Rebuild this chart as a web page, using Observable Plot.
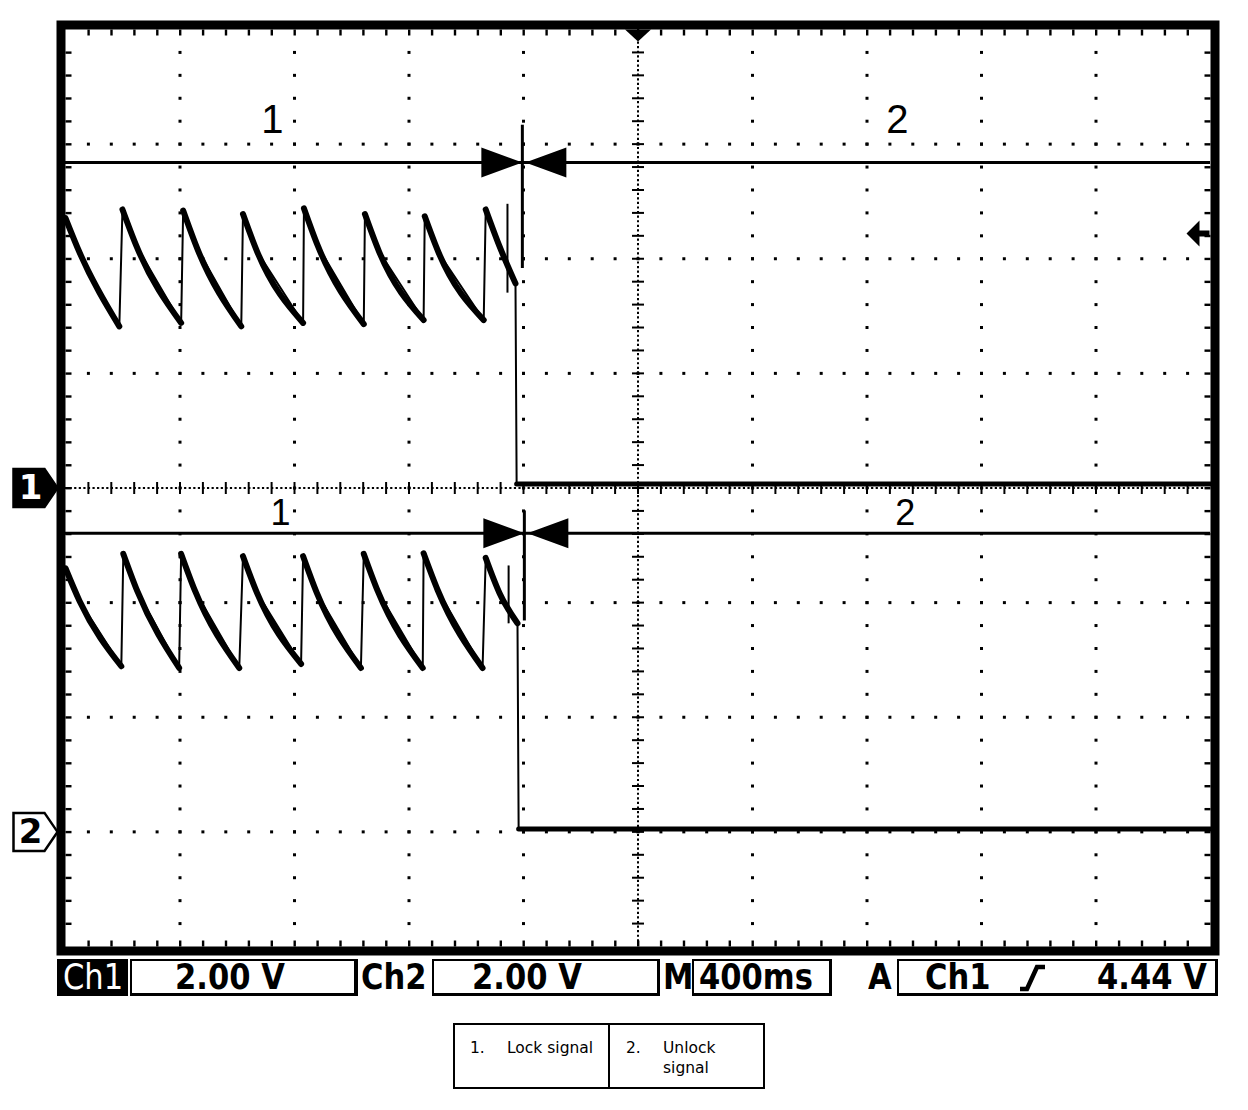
<!DOCTYPE html>
<html><head><meta charset="utf-8">
<script src="https://cdn.jsdelivr.net/npm/d3@7"></script>
<script src="https://cdn.jsdelivr.net/npm/@observablehq/plot@0.6"></script>
<style>
html,body{margin:0;padding:0;background:#fff}
body{width:1248px;height:1110px;position:relative;overflow:hidden;font-family:"DejaVu Sans",sans-serif}
#chart{position:absolute;left:0;top:0}
.bx{position:absolute;top:959px;height:37px;box-sizing:border-box;border:2px solid #000;border-right-width:3px;border-bottom-width:3px}
.tx{position:absolute;top:959px;height:36px;line-height:36px;font-size:36px;font-weight:bold;white-space:nowrap;transform:scaleX(0.85);transform-origin:left center;color:#000}
.lg{position:absolute;font-size:15.5px;line-height:18px;white-space:nowrap;color:#000}
</style></head><body>
<div id="chart"></div>
<div id="status"></div>
<div id="legend"></div>
<script>
// ---------- data ----------
const ch1TimeMs = [-2000,-1950,-1812,-1801,-1752,-1596,-1589,-1540,-1386,-1380,-1331,-1170,-1167,-1118,-958,-954,-905,-749,-745,-696,-539,-532,-484,-428,-424,2000];
const ch1Volts  = [4.71,4.10,2.82,4.86,4.22,2.88,4.84,4.18,2.82,4.78,4.13,2.88,4.88,4.22,2.86,4.78,4.13,2.93,4.74,4.10,2.93,4.86,4.22,3.57,0.07,0.07];
const ch2TimeMs = [-2000,-1951,-1805,-1798,-1749,-1603,-1596,-1547,-1393,-1380,-1331,-1177,-1170,-1122,-968,-958,-909,-752,-749,-700,-543,-532,-484,-421,-417,2000];
const ch2Volts  = [4.60,4.03,2.89,4.85,4.20,2.86,4.85,4.20,2.86,4.81,4.17,2.93,4.81,4.17,2.86,4.85,4.20,2.86,4.86,4.22,2.86,4.78,4.17,3.64,0.05,0.05];
const glitchTimeMs = [-456, -452];
const glitchTopV = [4.95, 4.64];
const glitchBottomV = [3.40, 3.63];

const channels = ["Ch1", "Ch2"];
const voltsPerDiv = [2.00, 2.00];
const groundOffsetDiv = [0, -3];
const timePerDivMs = 400;
const triggerLevelV = 4.44;

const cursorLevelV = [5.68, 5.21];
const cursorEdgeMs = [-404, -397];
const cursorTopV = [6.33, 5.60];
const cursorBottomV = [3.83, 3.68];
const cursorLabels = ["1", "2"];
const cursorLabelMs = [[-1277, 906], [-1249, 934]];
const cursorLabelV = [6.41, 5.55];
const cursorLabelSize = [40, 36];

const legendNumbers = ["1.", "2."];
const legendItems = [["Lock signal"], ["Unlock", "signal"]];

// ---------- helpers ----------
const div = (ch, v) => v / voltsPerDiv[ch] + groundOffsetDiv[ch];
function traceRows(ts, vs, ch) {
  let s = 0;
  return ts.map((t, i) => {
    if (i > 0 && Math.abs(t - ts[i - 1]) < 20) s++;
    return {t, v: div(ch, vs[i]), seg: s, flat: vs[i] < 1};
  });
}
const ch1Rows = traceRows(ch1TimeMs, ch1Volts, 0);
const ch2Rows = traceRows(ch2TimeMs, ch2Volts, 1);
const glitchRows = glitchTimeMs.map((t, i) => ({t, y1: div(i, glitchTopV[i]), y2: div(i, glitchBottomV[i])}));

const tHalf = timePerDivMs * 5;
const majorT = d3.range(-4, 5).map(k => k * timePerDivMs).filter(t => t !== 0);
const minorT = d3.range(-24, 25).map(k => k * timePerDivMs / 5);
const majorY = [-3, -2, -1, 1, 2, 3];
const minorY = d3.range(-19, 20).map(k => k / 5);

const gridDots = [];
for (const t of majorT) for (const y of minorY) gridDots.push({t, y});
for (const y of majorY) for (const t of minorT) gridDots.push({t, y});

const sym = (f) => ({draw: f});
const dotSym = sym(c => c.rect(-1.5, -1.5, 3, 3));
const hTick = sym(c => c.rect(-6, -1, 12, 2));
const vTick = sym(c => c.rect(-1, -6, 2, 12));
const topTick = sym(c => c.rect(-1, 0, 2.4, 6));
const botTick = sym(c => c.rect(-1, -6, 2.4, 6));
const leftTick = sym(c => c.rect(0, -1, 6, 2.4));
const rightTick = sym(c => c.rect(-6, -1, 6, 2.4));
const bowtie = sym(c => {
  c.moveTo(-41, -15); c.lineTo(0, 0); c.lineTo(-41, 15); c.closePath();
  c.moveTo(44, -15); c.lineTo(3, 0); c.lineTo(44, 15); c.closePath();
});
const groundMarker = sym(c => {
  c.moveTo(-44, -19); c.lineTo(-13, -19); c.lineTo(0, 0); c.lineTo(-13, 19); c.lineTo(-44, 19); c.closePath();
});
const trigArrow = sym(c => {
  c.moveTo(-24, 0); c.lineTo(-11, -13); c.lineTo(-11, -3); c.lineTo(-1, -3); c.lineTo(-1, 3); c.lineTo(-11, 3); c.lineTo(-11, 13); c.closePath();
});
const trigPos = sym(c => { c.moveTo(-13, 0); c.lineTo(13, 0); c.lineTo(0, 12); c.closePath(); });

const cursorRows = cursorLevelV.map((v, i) => ({y: div(i, v), t: cursorEdgeMs[i], y1: div(i, cursorTopV[i]), y2: div(i, cursorBottomV[i])}));
const cursorLabelRows = [];
cursorLabelMs.forEach((ts, i) => ts.forEach((t, j) => cursorLabelRows.push({t, y: div(i, cursorLabelV[i]), text: cursorLabels[j], size: cursorLabelSize[i]})));

const groundRows = channels.map((c, i) => ({t: -tHalf, y: groundOffsetDiv[i], label: String(i + 1), i}));

const decayOnly = rows => rows.filter(r => !r.flat);
const flatOnly = rows => rows.filter(r => r.flat);

const plot = Plot.plot({
  width: 1248, height: 1000,
  marginLeft: 65, marginRight: 38, marginTop: 29, marginBottom: 54,
  x: {domain: [-tHalf, tHalf], axis: null},
  y: {domain: [-4, 4], axis: null},
  style: {background: "white", overflow: "visible"},
  marks: [
    // graticule
    Plot.dot(gridDots, {x: "t", y: "y", symbol: dotSym, fill: "black", stroke: "none"}),
    Plot.ruleX([0], {y1: -4, y2: 4, stroke: "black", strokeWidth: 2, strokeDasharray: "2.2 2.38"}),
    Plot.ruleY([0], {x1: -tHalf, x2: tHalf, stroke: "black", strokeWidth: 2, strokeDasharray: "2.2 2.38"}),
    Plot.dot(minorY, {x: 0, y: d => d, symbol: hTick, fill: "black", stroke: "none"}),
    Plot.dot(minorT, {x: d => d, y: 0, symbol: vTick, fill: "black", stroke: "none"}),
    Plot.dot(minorT, {x: d => d, y: 4, symbol: topTick, fill: "black", stroke: "none"}),
    Plot.dot(minorT, {x: d => d, y: -4, symbol: botTick, fill: "black", stroke: "none"}),
    Plot.dot(minorY, {x: -tHalf, y: d => d, symbol: leftTick, fill: "black", stroke: "none"}),
    Plot.dot(minorY, {x: tHalf, y: d => d, symbol: rightTick, fill: "black", stroke: "none"}),
    Plot.frame({stroke: "black", strokeWidth: 9, inset: -4.5}),
    // cursors / annotations
    Plot.ruleY(cursorRows, {y: "y", x1: -tHalf, x2: tHalf, stroke: "black", strokeWidth: 3}),
    Plot.ruleX(cursorRows, {x: "t", y1: "y1", y2: "y2", stroke: "black", strokeWidth: 3}),
    Plot.dot(cursorRows, {x: "t", y: "y", symbol: bowtie, fill: "black", stroke: "none"}),
    Plot.text(cursorLabelRows, {x: "t", y: "y", text: "text", fontSize: d => d.size, fontFamily: "Liberation Sans, Arial, sans-serif", fill: "black", textAnchor: "middle", lineAnchor: "middle"}),
    // traces
    Plot.line(ch1Rows, {x: "t", y: "v", stroke: "black", strokeWidth: 2}),
    Plot.line(decayOnly(ch1Rows), {x: "t", y: "v", z: "seg", curve: "monotone-x", stroke: "black", strokeWidth: 6}),
    Plot.line(flatOnly(ch1Rows), {x: "t", y: "v", stroke: "black", strokeWidth: 5}),
    Plot.line(ch2Rows, {x: "t", y: "v", stroke: "black", strokeWidth: 2}),
    Plot.line(decayOnly(ch2Rows), {x: "t", y: "v", z: "seg", curve: "monotone-x", stroke: "black", strokeWidth: 6}),
    Plot.line(flatOnly(ch2Rows), {x: "t", y: "v", stroke: "black", strokeWidth: 5}),
    Plot.ruleX(glitchRows, {x: "t", y1: "y1", y2: "y2", stroke: "black", strokeWidth: 2}),
    // markers
    Plot.dot([{t: 0}], {x: "t", y: 4, symbol: trigPos, fill: "black", stroke: "none"}),
    Plot.dot([{v: triggerLevelV}], {x: tHalf, y: d => div(0, d.v), symbol: trigArrow, fill: "black", stroke: "none"}),
    Plot.dot(groundRows, {x: "t", y: "y", dx: -8, symbol: groundMarker, fill: d => d.i === 0 ? "black" : "white", stroke: "black", strokeWidth: 2.5}),
    Plot.text(groundRows, {x: "t", y: "y", dx: -35, text: "label", fontSize: 34, fontWeight: "bold", fontFamily: "DejaVu Sans, sans-serif", fill: d => d.i === 0 ? "white" : "black", textAnchor: "middle", lineAnchor: "middle"})
  ]
});
document.getElementById("chart").appendChild(plot);

// ---------- status bar ----------
const statusBoxes = [[130, 227], [432, 228], [692, 140], [897, 321]];
const statusTexts = [
  {x: 63, text: channels[0], color: "#fff", weight: "normal"},
  {x: 175, text: voltsPerDiv[0].toFixed(2) + " V"},
  {x: 361, text: channels[1]},
  {x: 472, text: voltsPerDiv[1].toFixed(2) + " V"},
  {x: 663, text: "M"},
  {x: 699, text: timePerDivMs + "ms"},
  {x: 868, text: "A"},
  {x: 925, text: channels[0]},
  {x: 1097, text: triggerLevelV.toFixed(2) + " V"}
];
let html = '<div style="position:absolute;left:57px;top:959px;width:71px;height:37px;background:#000"></div>';
html += '<div style="position:absolute;left:356px;top:959px;width:2px;height:37px;background:#000"></div>';
for (const [l, w] of statusBoxes) html += `<div class="bx" style="left:${l}px;width:${w}px"></div>`;
for (const s of statusTexts) html += `<div class="tx" style="left:${s.x}px;color:${s.color || "#000"};font-weight:${s.weight || "bold"}">${s.text}</div>`;
html += '<svg style="position:absolute;left:1018px;top:964px" width="30" height="28"><path d="M2 25 H9 L19 3 H27" fill="none" stroke="#000" stroke-width="4.5"/></svg>';
document.getElementById("status").innerHTML = html;

// ---------- legend table ----------
let lg = '<div style="position:absolute;left:453px;top:1023px;width:312px;height:66px;box-sizing:border-box;border:2px solid #000"></div>';
lg += '<div style="position:absolute;left:608px;top:1023px;width:2px;height:66px;background:#000"></div>';
const cellX = [470, 626];
legendItems.forEach((lines, i) => {
  lg += `<div class="lg" style="left:${cellX[i]}px;top:1039px">${legendNumbers[i]}</div>`;
  lines.forEach((ln, j) => { lg += `<div class="lg" style="left:${cellX[i] + 37}px;top:${1039 + j * 20}px">${ln}</div>`; });
});
document.getElementById("legend").innerHTML = lg;
</script>
</body></html>
